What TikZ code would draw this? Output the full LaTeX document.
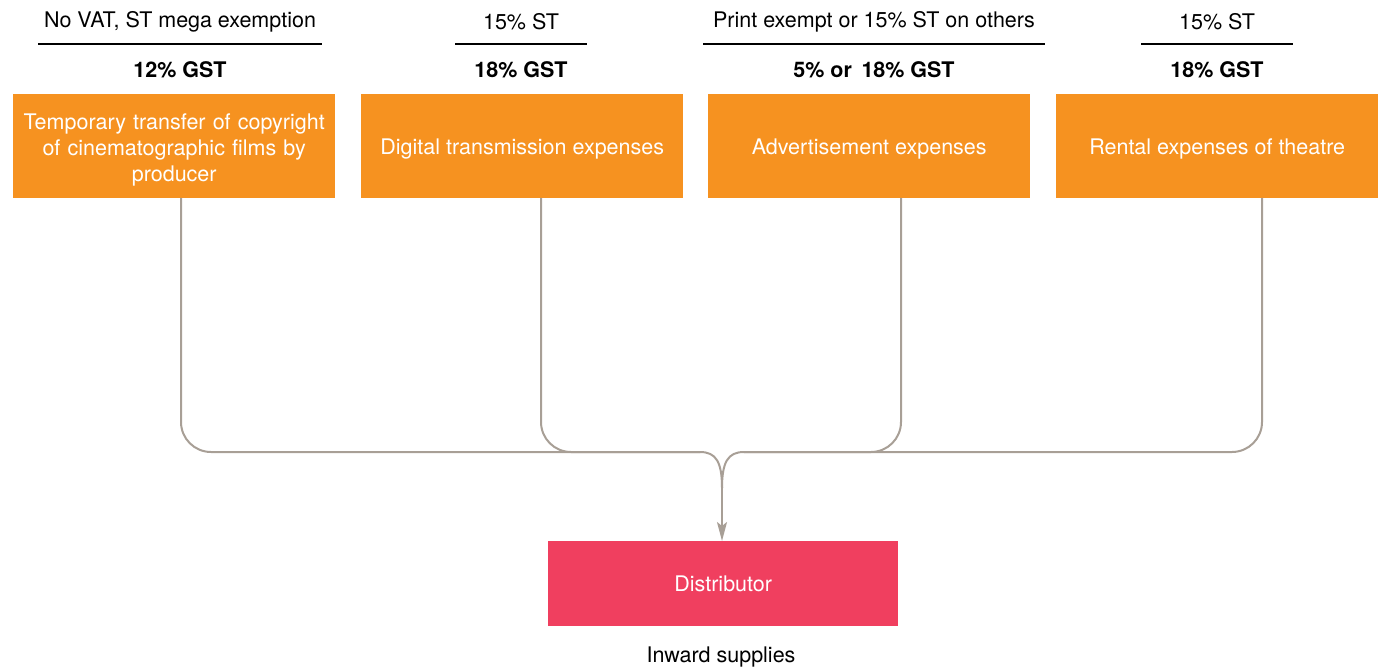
\documentclass[tikz,border=0pt]{standalone}
\usepackage{fontspec}
\setmainfont{TeX Gyre Heros}
\usetikzlibrary{arrows.meta}
\definecolor{boxorange}{HTML}{F69220}
\definecolor{boxpink}{HTML}{F03F5F}
\definecolor{conngray}{HTML}{A89F96}
\tikzset{
  obox/.style={fill=boxorange, draw=none, text=white, minimum width=322pt, minimum height=104pt, inner sep=0pt, anchor=north west, align=center, text depth=0pt, font=\fontsize{21.5}{26}\selectfont},
  pbox/.style={fill=boxpink, draw=none, text=white, minimum width=350pt, minimum height=85pt, inner sep=0pt, anchor=north west, text depth=0pt, font=\fontsize{21.5}{26}\selectfont},
  toplbl/.style={font=\fontsize{21.5}{26}\selectfont, inner sep=0pt},
  gstlbl/.style={font=\fontsize{21.5}{26}\selectfont\bfseries, inner sep=0pt},
  rule/.style={line width=1.8pt, black},
  conn/.style={draw=conngray, line width=2pt},
}
\begin{document}
\begin{tikzpicture}[x=1pt,y=-1pt]
\useasboundingbox (0,0) rectangle (1381,668);
% boxes
\node[obox, text width=318pt, text depth=49pt] (b1) at (13,94) {Temporary transfer of copyright\\of cinematographic films by\\producer};
\node[obox] (b2) at (361,94) {Digital transmission expenses};
\node[obox] (b3) at (708,94) {Advertisement expenses};
\node[obox] (b4) at (1056,94) {Rental expenses of theatre};
\node[pbox] (d) at (548,541) {Distributor};
\node[toplbl] (inw) at (721,657) {Inward supplies};
% top labels
\node[toplbl] (t1) at (180,22) {No VAT, ST mega exemption};
\node[toplbl] (t2) at (521,22) {15\% ST};
\node[toplbl] (t3) at (874,22) {Print exempt or 15\% ST on others};
\node[toplbl] (t4) at (1217,22) {15\% ST};
\coordinate (r1a) at (38,44); \coordinate (r1b) at (322,44);
\coordinate (r2a) at (455,44); \coordinate (r2b) at (587,44);
\coordinate (r3a) at (703,44); \coordinate (r3b) at (1045,44);
\coordinate (r4a) at (1141,44); \coordinate (r4b) at (1293,44);
\draw[rule] (r1a) -- (r1b);
\draw[rule] (r2a) -- (r2b);
\draw[rule] (r3a) -- (r3b);
\draw[rule] (r4a) -- (r4b);
\node[gstlbl] (g1) at (180,70) {12\% GST};
\node[gstlbl] (g2) at (521,70) {18\% GST};
\node[gstlbl] (g3) at (874,70) {5\% or\, 18\% GST};
\node[gstlbl] (g4) at (1217,70) {18\% GST};
% connectors
\coordinate (s1) at (181,198);
\coordinate (s2) at (541,198);
\coordinate (s3) at (901,198);
\coordinate (s4) at (1262,198);
\coordinate (jl) at (700,452);
\coordinate (jr) at (744,452);
\coordinate (jm) at (722,488);
\draw[conn, rounded corners=30pt] (s1) -- (181,452) -- (jl);
\draw[conn, rounded corners=30pt] (s2) -- (541,452) -- (jl);
\draw[conn, rounded corners=30pt] (s3) -- (901,452) -- (jr);
\draw[conn, rounded corners=30pt] (s4) -- (1262,452) -- (jr);
\draw[conn] (jl) .. controls (716,452) and (722,462) .. (jm);
\draw[conn] (jr) .. controls (728,452) and (722,462) .. (jm);
\draw[conn, -{Stealth[length=19pt,width=10pt,inset=4pt]}] (jm) -- (d.north -| jm);
\end{tikzpicture}
\end{document}
